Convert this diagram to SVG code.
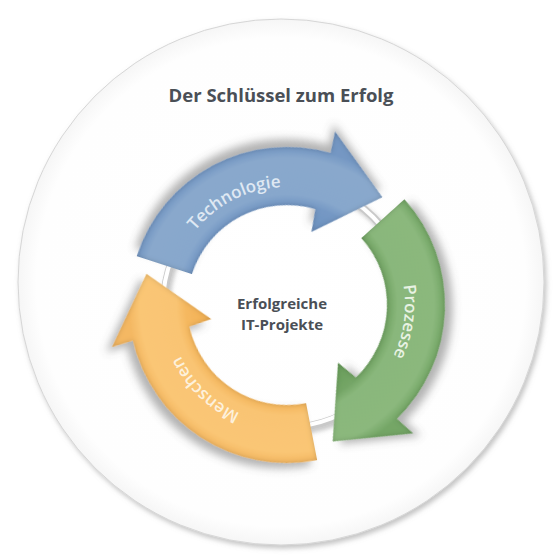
<svg xmlns="http://www.w3.org/2000/svg" xmlns:xlink="http://www.w3.org/1999/xlink" width="560" height="560" viewBox="0 0 560 560">
  <defs>
    <style>
      .title { font-family: "Open Sans", "Liberation Sans", sans-serif; font-weight: 700; font-size: 18.5px; fill: #4a4f56; text-anchor: middle; }
      .center { font-family: "Open Sans", "Liberation Sans", sans-serif; font-weight: 700; font-size: 15px; fill: #4a4f56; text-anchor: middle; }
      .lbl { font-family: "Open Sans", "Liberation Sans", sans-serif; font-weight: 600; font-size: 17px; text-anchor: middle; }
    </style>
    <radialGradient id="bgGrad" cx="281" cy="282" r="263" gradientUnits="userSpaceOnUse">
      <stop offset="0" stop-color="#ffffff"/>
      <stop offset="0.93" stop-color="#fefefe"/>
      <stop offset="1" stop-color="#f6f6f6"/>
    </radialGradient>
    <radialGradient id="gBlue" cx="0" cy="0" r="158" gradientUnits="userSpaceOnUse">
      <stop offset="0.5" stop-color="#6d92c0"/>
      <stop offset="0.64" stop-color="#7598c4"/>
      <stop offset="0.7" stop-color="#87a7cc"/>
      <stop offset="0.93" stop-color="#89a8cc"/>
      <stop offset="1" stop-color="#7497c3"/>
    </radialGradient>
    <radialGradient id="gGreen" cx="0" cy="0" r="158" gradientUnits="userSpaceOnUse">
      <stop offset="0.5" stop-color="#6a9e5c"/>
      <stop offset="0.64" stop-color="#74a566"/>
      <stop offset="0.7" stop-color="#89b77b"/>
      <stop offset="0.93" stop-color="#8bb87d"/>
      <stop offset="1" stop-color="#74a666"/>
    </radialGradient>
    <radialGradient id="gOrange" cx="0" cy="0" r="158" gradientUnits="userSpaceOnUse">
      <stop offset="0.5" stop-color="#f2b055"/>
      <stop offset="0.64" stop-color="#f5b860"/>
      <stop offset="0.7" stop-color="#f9c473"/>
      <stop offset="0.93" stop-color="#fac675"/>
      <stop offset="1" stop-color="#f4b863"/>
    </radialGradient>
    <filter id="arrowFx" x="-30%" y="-30%" width="160%" height="160%">
      <feGaussianBlur in="SourceAlpha" stdDeviation="4" result="blur"/>
      <feOffset in="blur" dx="4" dy="7" result="off"/>
      <feFlood flood-color="#555555" flood-opacity="0.45"/>
      <feComposite in2="off" operator="in" result="shadow"/>
      <feGaussianBlur in="SourceAlpha" stdDeviation="2.5" result="b2"/>
      <feComposite in="SourceAlpha" in2="b2" operator="arithmetic" k2="1" k3="-1" result="edge"/>
      <feFlood flood-color="#000000" flood-opacity="0.35"/>
      <feComposite in2="edge" operator="in" result="edgeShade"/>
      <feMerge>
        <feMergeNode in="shadow"/>
        <feMergeNode in="SourceGraphic"/>
        <feMergeNode in="edgeShade"/>
      </feMerge>
    </filter>
    <filter id="bgFx" x="-10%" y="-10%" width="120%" height="120%">
      <feDropShadow dx="2" dy="3" stdDeviation="2.5" flood-color="#888888" flood-opacity="0.5"/>
    </filter>
    <filter id="ringFx" x="-20%" y="-20%" width="140%" height="140%">
      <feDropShadow dx="2" dy="3" stdDeviation="2" flood-color="#777777" flood-opacity="0.4"/>
    </filter>
    <path id="arrowShape" d="M158,0 A158,158 0 0 1 5.51,157.9 L7.85,179.83 L-57.42,132.06 L-0.67,77 L2.62,99.97 A100,100 0 0 0 100,0 Z"/>
    <path id="textArc" d="M59,-102.19 A118,118 0 0 1 59,102.19"/>
  </defs>

  <g id="background">
    <circle cx="281" cy="282" r="263" fill="url(#bgGrad)" stroke="#d6d6d6" stroke-width="1" filter="url(#bgFx)"/>
  </g>

  <text class="title" x="281" y="102">Der Schlüssel zum Erfolg</text>

  <g id="connectors">
    <g filter="url(#ringFx)">
      <circle cx="287" cy="305" r="123" fill="none" stroke="#c9c9c9" stroke-width="8"/>
      <circle cx="286" cy="304" r="123" fill="none" stroke="#ffffff" stroke-width="4"/>
    </g>
  </g>

  <g id="node-technologie">
    <use href="#arrowShape" xlink:href="#arrowShape" transform="translate(287,305) rotate(198)" fill="url(#gBlue)" filter="url(#arrowFx)"/>
    <g transform="translate(287,305) rotate(243)">
      <text class="lbl" fill="#dfe8f3"><textPath href="#textArc" xlink:href="#textArc" startOffset="50%">Technologie</textPath></text>
    </g>
  </g>

  <g id="node-prozesse">
    <use href="#arrowShape" xlink:href="#arrowShape" transform="translate(287,305) rotate(318)" fill="url(#gGreen)" filter="url(#arrowFx)"/>
    <g transform="translate(287,305) rotate(8)">
      <text class="lbl" fill="#e8f2e3"><textPath href="#textArc" xlink:href="#textArc" startOffset="50%">Prozesse</textPath></text>
    </g>
  </g>

  <g id="node-menschen">
    <use href="#arrowShape" xlink:href="#arrowShape" transform="translate(287,305) rotate(79)" fill="url(#gOrange)" filter="url(#arrowFx)"/>
    <g transform="translate(287,305) rotate(134)">
      <text class="lbl" fill="#fdf1dc"><textPath href="#textArc" xlink:href="#textArc" startOffset="50%">Menschen</textPath></text>
    </g>
  </g>

  <g id="node-center">
    <text class="center" x="282" y="309">Erfolgreiche</text>
    <text class="center" x="282" y="330">IT-Projekte</text>
  </g>
</svg>
